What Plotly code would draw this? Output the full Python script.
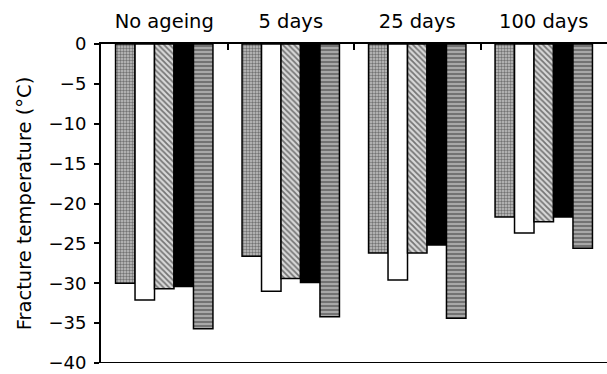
import plotly.graph_objects as go

categories = ["No ageing", "5 days", "25 days", "100 days"]
series_a = [-30.0, -26.6, -26.2, -21.7]   # dotted grey
series_b = [-32.1, -31.0, -29.6, -23.7]   # white
series_c = [-30.7, -29.4, -26.2, -22.3]   # diagonal hatch
series_d = [-30.4, -29.9, -25.2, -21.7]   # black
series_e = [-35.7, -34.2, -34.4, -25.6]   # horizontal stripes
y_ticks = [0, -5, -10, -15, -20, -25, -30, -35, -40]

styles = [
    dict(color="#9a9a9a", pattern=dict(shape=".", fgcolor="#222222", bgcolor="#c4c4c4", size=3, solidity=0.5)),
    dict(color="white"),
    dict(color="white", pattern=dict(shape="\\", fgcolor="#111111", bgcolor="#d8d8d8", size=4, solidity=0.45)),
    dict(color="black"),
    dict(color="#888888", pattern=dict(shape="-", fgcolor="#333333", bgcolor="#a8a8a8", size=4, solidity=0.45)),
]
series = [series_a, series_b, series_c, series_d, series_e]

fig = go.Figure()
for vals, st in zip(series, styles):
    m = dict(line=dict(color="black", width=1.5))
    m.update(st)
    fig.add_trace(go.Bar(x=categories, y=vals, marker=m, showlegend=False))

fig.update_layout(
    width=607, height=374,
    margin=dict(l=101, r=0, t=44, b=11, autoexpand=False),
    barmode="group", bargap=0.23, bargroupgap=0,
    plot_bgcolor="white", paper_bgcolor="white",
    font=dict(family="DejaVu Sans, Liberation Sans, sans-serif", color="black", size=18),
    xaxis=dict(side="top", showline=True, linecolor="black", linewidth=2, automargin=False,
               ticks="inside", tickson="boundaries", ticklen=6, tickcolor="black", tickwidth=2,
               tickfont=dict(size=19.5), showgrid=False, ticklabelstandoff=6),
    yaxis=dict(range=[-40, 0], tickvals=y_ticks, showline=True, linecolor="black", linewidth=2,
               automargin=False, ticklabelstandoff=4,
               ticks="outside", ticklen=5, tickcolor="black", tickwidth=2, showgrid=False,
               zeroline=False, title=dict(text="Fracture temperature (°C)", font=dict(size=19.5), standoff=12)),
)
fig.add_shape(type="line", xref="paper", yref="y", x0=0, x1=1, y0=-40, y1=-40,
              line=dict(color="black", width=2))
fig.write_html("out.html", config={"displayModeBar": False},
               post_script="document.body.style.margin='0';")
